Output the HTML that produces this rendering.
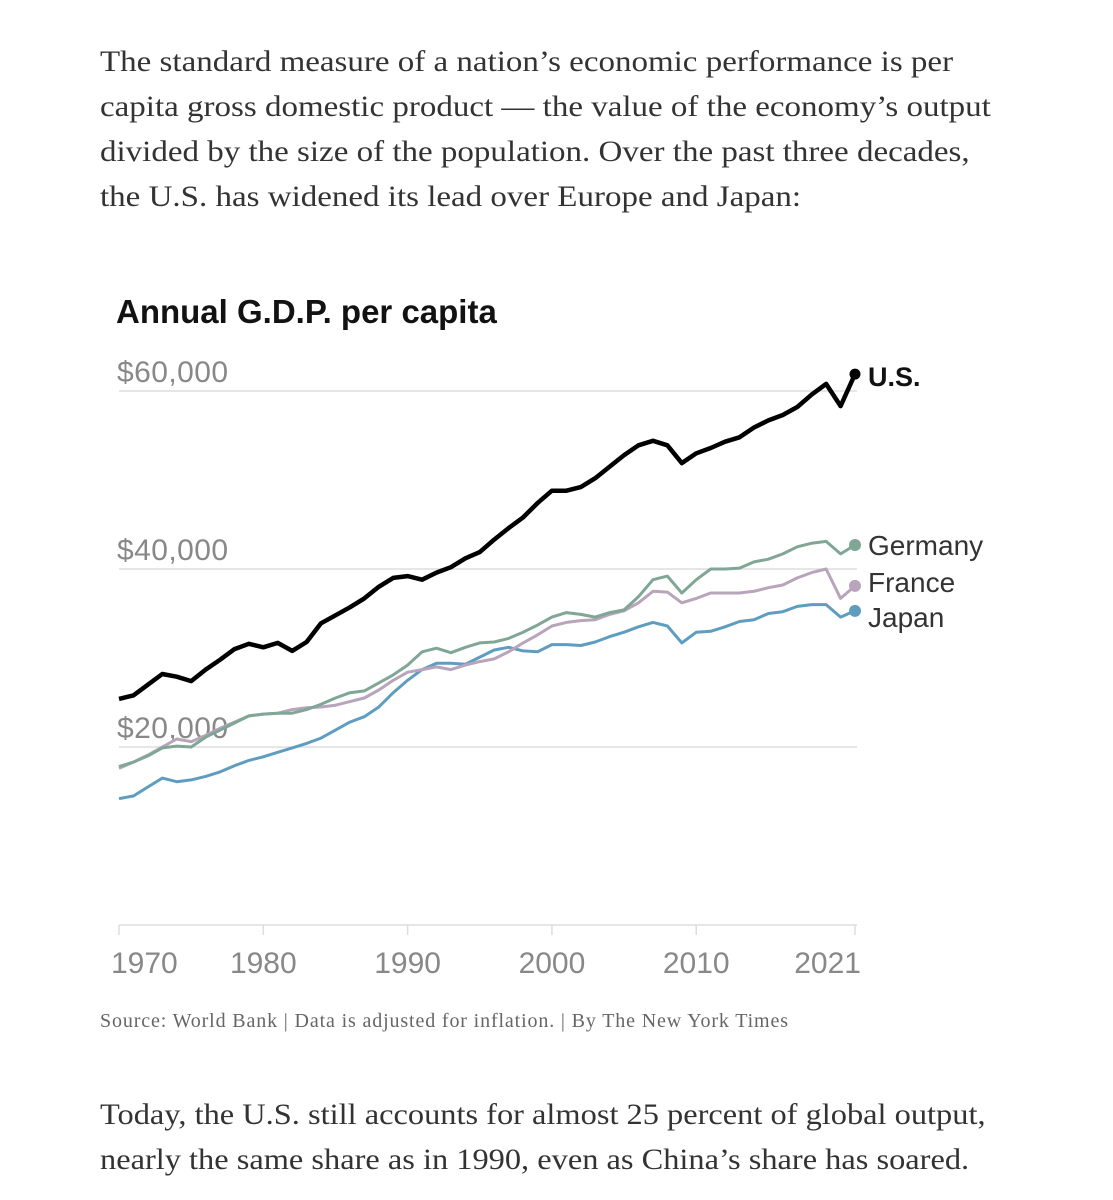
<!DOCTYPE html>
<html><head><meta charset="utf-8"><style>
body{margin:0;background:#fff;width:1113px;height:1200px;overflow:hidden;position:relative}
.p{position:absolute;left:100px;font-family:"Liberation Serif",serif;font-size:30px;color:#333;line-height:45px;margin:0;white-space:nowrap;transform:scaleX(1.1);transform-origin:0 0}
svg{position:absolute;left:0;top:0}
</style></head><body>
<p class="p" style="top:39px">The standard measure of a nation’s economic performance is per<br>capita gross domestic product — the value of the economy’s output<br>divided by the size of the population. Over the past three decades,<br>the U.S. has widened its lead over Europe and Japan:</p>
<p class="p" style="top:1092px;transform:scaleX(1.08)">Today, the U.S. still accounts for almost 25 percent of global output,<br>nearly the same share as in 1990, even as China’s share has soared.</p>
<svg id="chart" width="1113" height="1200"></svg>
<script>
const years=[];for(let y=1970;y<=2021;y++)years.push(y);
const usValues=[25.4,25.8,27.0,28.2,27.9,27.4,28.7,29.8,31.0,31.6,31.2,31.7,30.8,31.8,33.9,34.8,35.7,36.7,38.0,39.0,39.2,38.8,39.6,40.2,41.2,41.9,43.3,44.6,45.8,47.4,48.8,48.8,49.2,50.2,51.5,52.8,53.9,54.4,53.9,51.9,53.0,53.6,54.3,54.8,55.9,56.7,57.3,58.2,59.6,60.8,58.3,61.9];
const germanyValues=[17.8,18.3,19.0,19.9,20.1,20.0,21.1,21.9,22.7,23.5,23.7,23.8,23.8,24.2,24.8,25.5,26.1,26.3,27.2,28.1,29.2,30.7,31.1,30.6,31.2,31.7,31.8,32.2,32.9,33.7,34.6,35.1,34.9,34.6,35.1,35.4,36.9,38.8,39.2,37.3,38.8,40.0,40.0,40.1,40.8,41.1,41.7,42.5,42.9,43.1,41.7,42.7];
const franceValues=[17.6,18.3,19.1,20.0,20.9,20.6,21.3,22.1,22.8,23.5,23.7,23.8,24.2,24.4,24.5,24.7,25.1,25.5,26.4,27.5,28.4,28.7,29.0,28.7,29.2,29.6,29.9,30.7,31.7,32.6,33.6,34.0,34.2,34.3,34.9,35.3,36.2,37.5,37.4,36.2,36.7,37.3,37.3,37.3,37.5,37.9,38.2,39.0,39.6,40.0,36.7,38.1];
const japanValues=[14.2,14.5,15.5,16.5,16.1,16.3,16.7,17.2,17.9,18.5,18.9,19.4,19.9,20.4,21.0,21.9,22.8,23.4,24.5,26.1,27.5,28.7,29.4,29.4,29.3,30.1,30.9,31.2,30.8,30.7,31.5,31.5,31.4,31.8,32.4,32.9,33.5,34.0,33.6,31.7,32.9,33.0,33.5,34.1,34.3,35.0,35.2,35.8,36.0,36.0,34.6,35.3];
const yTicks=[20,40,60];
const yTickLabels=["$20,000","$40,000","$60,000"];
const xTicks=[1970,1980,1990,2000,2010,2021];
const series=[
 {name:"Japan",vals:japanValues,color:"#5f9dc0",w:3,lab:"Japan",ly:617,bold:false},
 {name:"France",vals:franceValues,color:"#b8a4bb",w:3,lab:"France",ly:582,bold:false},
 {name:"Germany",vals:germanyValues,color:"#80a696",w:3,lab:"Germany",ly:545,bold:false},
 {name:"U.S.",vals:usValues,color:"#000",w:4.5,lab:"U.S.",ly:376,bold:true}];
const X=y=>119+(y-1970)*(736/51);
const Y=v=>925-v*8.9;
const svg=document.getElementById('chart');const NS="http://www.w3.org/2000/svg";
function mk(t,a){const e=document.createElementNS(NS,t);for(const k in a)e.setAttribute(k,a[k]);svg.appendChild(e);return e;}
const title=mk('text',{x:116,y:323,'font-family':'Liberation Sans, sans-serif','font-size':33,'font-weight':'bold',fill:'#121212'});
title.textContent="Annual G.D.P. per capita";


yTicks.forEach((t,i)=>{
 const g=mk('line',{x1:119,x2:857,y1:Y(t),y2:Y(t),stroke:'#ddd','stroke-width':1.5});
 
 
 const l=mk('text',{x:117,y:Y(t)-9,'font-family':'Liberation Sans, sans-serif','font-size':30,fill:'#888','textLength':111});
 l.textContent=yTickLabels[i];
 
 
});
const base=mk('line',{x1:119,x2:857,y1:925,y2:925,stroke:'#ddd','stroke-width':1.5});


xTicks.forEach((t,i)=>{
 const tk=mk('line',{x1:X(t),x2:X(t),y1:925,y2:935,stroke:'#ddd','stroke-width':1.5});
 
 
 const anchor=i==0?'start':(i==xTicks.length-1?'end':'middle');
 const x=i==0?X(t)-8:(i==xTicks.length-1?X(t)+6:X(t));
 const l=mk('text',{x:x,y:973,'text-anchor':anchor,'font-family':'Liberation Sans, sans-serif','font-size':30,fill:'#888'});
 l.textContent=t;
 
 
});
series.forEach(s=>{
 const d=s.vals.map((v,i)=>(i?'L':'M')+X(years[i]).toFixed(1)+','+Y(v).toFixed(1)).join('');
 const p=mk('path',{d:d,fill:'none',stroke:s.color,'stroke-width':s.w,'stroke-linejoin':'round'});
 
 
 const last=s.vals[s.vals.length-1];
 const c=mk('circle',{cx:X(2021),cy:Y(last),r:s.bold?5.5:6,fill:s.color});
 
 
 const t=mk('text',{x:868,y:s.ly+10,'font-family':'Liberation Sans, sans-serif','font-size':s.bold?27:28,'font-weight':s.bold?'bold':'normal',fill:s.bold?'#121212':'#333'});
 t.textContent=s.lab;
 
 
});
const src=mk('text',{x:100,y:1027,'font-family':'Liberation Serif, serif','font-size':20,fill:'#666','textLength':688});
src.textContent="Source: World Bank | Data is adjusted for inflation. | By The New York Times";


</script>
</body></html>
